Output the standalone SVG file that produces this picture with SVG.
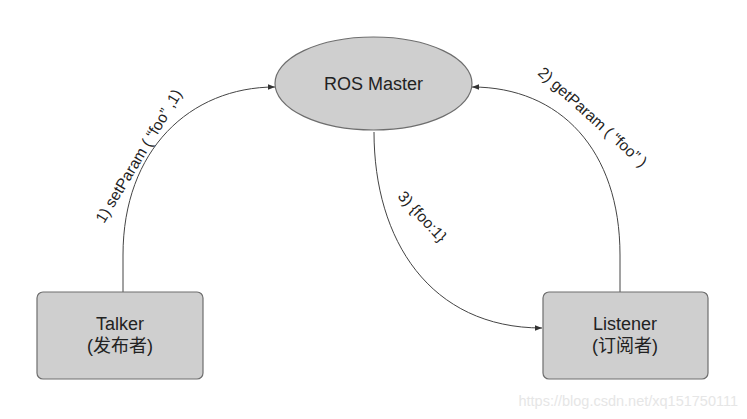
<svg xmlns="http://www.w3.org/2000/svg" width="747" height="419" viewBox="0 0 747 419">
<style>
.node{fill:#cfcfcf;stroke:#6e6e6e;stroke-width:1.2}
.t{font-family:"Liberation Sans","Noto Sans CJK SC",sans-serif;font-size:18px;fill:#222;text-anchor:middle}
.lbl{font-family:"Liberation Sans","Noto Sans CJK SC",sans-serif;font-size:15.5px;fill:#222}
.edge{fill:none;stroke:#444;stroke-width:1}
</style>
<defs>
<marker id="arr" viewBox="0 0 10 10" refX="10" refY="5" markerWidth="7" markerHeight="7" orient="auto">
<path d="M0,1 L10,5 L0,9 z" fill="#333"/>
</marker>
</defs>
<rect width="747" height="419" fill="#fff"/>
<g id="edges">
<path class="edge" d="M123,292 L123,255 C123,150 190,87 275,87" marker-end="url(#arr)"/>
<path class="edge" d="M620,292 L620,255 C620,150 560,87 472,87" marker-end="url(#arr)"/>
<path class="edge" d="M374,132 C374,240 430,328 542,328" marker-end="url(#arr)"/>
<text class="lbl" transform="translate(104,224) rotate(-59)">1) setParam ( “foo” ,1)</text>
<text class="lbl" transform="translate(537,74) rotate(42)">2) getParam ( “foo” )</text>
<text class="lbl" transform="translate(397,197) rotate(47)">3) {foo:1}</text>
</g>
<g id="master">
<ellipse class="node" cx="373.5" cy="83.5" rx="98.5" ry="46.5"/>
<text class="t" x="373.5" y="90">ROS Master</text>
</g>
<g id="talker">
<rect class="node" x="37" y="292" width="166" height="87" rx="6"/>
<text class="t" x="120" y="330">Talker</text>
<text class="t" x="120" y="352">(发布者)</text>
</g>
<g id="listener">
<rect class="node" x="543" y="292" width="165" height="87" rx="6"/>
<text class="t" x="625" y="330">Listener</text>
<text class="t" x="625" y="352">(订阅者)</text>
</g>
<text x="738" y="406" style="font-family:'Liberation Sans',sans-serif;font-size:14.5px;fill:#e6e6e6;text-anchor:end">https://blog.csdn.net/xq151750111</text>
</svg>
